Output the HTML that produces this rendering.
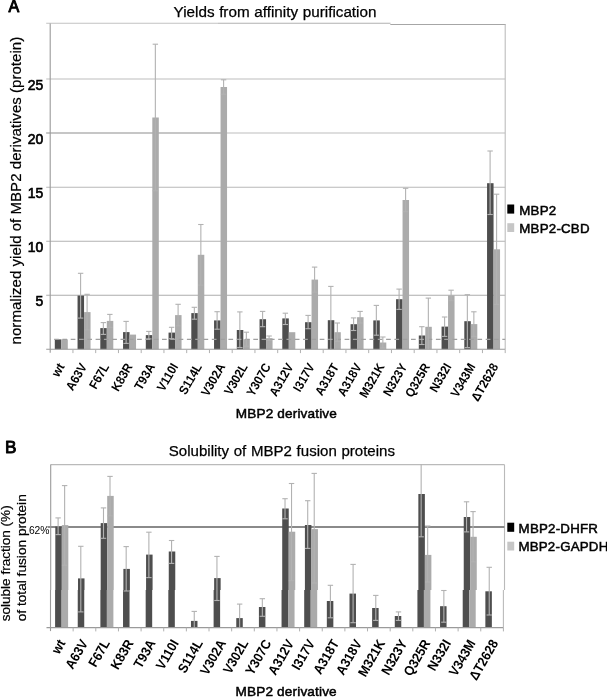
<!DOCTYPE html>
<html><head><meta charset="utf-8"><title>MBP2 derivatives</title>
<style>
html,body{margin:0;padding:0;background:#fff;}
body{width:607px;height:698px;overflow:hidden;}
svg{display:block;font-family:"Liberation Sans",sans-serif;fill:#000;filter:grayscale(1);}
</style></head><body>
<svg width="607" height="698" viewBox="0 0 607 698">
<rect width="607" height="698" fill="#fff"/>

<g id="chartA">
<g stroke="#bababa" stroke-width="1.05" fill="none">
<line x1="46.2" y1="295.2" x2="505.2" y2="295.2" stroke="#acacac"/>
<line x1="46.2" y1="241.2" x2="505.2" y2="241.2" stroke="#b2b2b2"/>
<line x1="46.2" y1="187.2" x2="505.2" y2="187.2" stroke="#b8b8b8"/>
<line x1="46.2" y1="133" x2="505.2" y2="133" stroke="#bebebe"/>
<line x1="46.2" y1="78.9" x2="505.2" y2="78.9" stroke="#bebebe"/>
<line x1="46.2" y1="23.3" x2="218" y2="23.3" stroke="#c2c2c2"/>
<line x1="218" y1="23.3" x2="390.5" y2="23.3" stroke="#b0b0b0"/>
<line x1="390.3" y1="24.4" x2="505.7" y2="24.4" stroke="#a6a6a6"/>
<line x1="505.2" y1="24.4" x2="505.2" y2="349.3"/>
<line x1="46.2" y1="133" x2="221" y2="133" stroke="#adadad" stroke-width="1.2"/>
</g>
<rect x="54.8" y="339.4" width="6.5" height="9.9" fill="#4e4e4e"/><rect x="61.3" y="339.4" width="6.5" height="9.9" fill="#ababab"/><rect x="77.55" y="295.6" width="6.5" height="53.7" fill="#4e4e4e"/><rect x="84.05" y="312.1" width="6.5" height="37.2" fill="#ababab"/><rect x="100.3" y="328.1" width="6.5" height="21.2" fill="#4e4e4e"/><rect x="106.8" y="320.9" width="6.5" height="28.4" fill="#ababab"/><rect x="123.05" y="332.1" width="6.5" height="17.2" fill="#4e4e4e"/><rect x="129.55" y="334.6" width="6.5" height="14.7" fill="#ababab"/><rect x="145.8" y="335.1" width="6.5" height="14.2" fill="#4e4e4e"/><rect x="152.3" y="117.5" width="6.5" height="231.8" fill="#ababab"/><rect x="168.55" y="332.6" width="6.5" height="16.7" fill="#4e4e4e"/><rect x="175.05" y="315.1" width="6.5" height="34.2" fill="#ababab"/><rect x="191.3" y="313.1" width="6.5" height="36.2" fill="#4e4e4e"/><rect x="197.8" y="254.8" width="6.5" height="94.5" fill="#ababab"/><rect x="214.05" y="320.4" width="6.5" height="28.9" fill="#4e4e4e"/><rect x="220.55" y="87" width="6.5" height="262.3" fill="#ababab"/><rect x="236.8" y="330" width="6.5" height="19.3" fill="#4e4e4e"/><rect x="243.3" y="339.2" width="6.5" height="10.1" fill="#ababab"/><rect x="259.55" y="319.2" width="6.5" height="30.1" fill="#4e4e4e"/><rect x="266.05" y="338.2" width="6.5" height="11.1" fill="#ababab"/><rect x="282.3" y="318.4" width="6.5" height="30.9" fill="#4e4e4e"/><rect x="288.8" y="332.2" width="6.5" height="17.1" fill="#ababab"/><rect x="305.05" y="322.2" width="6.5" height="27.1" fill="#4e4e4e"/><rect x="311.55" y="279.6" width="6.5" height="69.7" fill="#ababab"/><rect x="327.8" y="320.2" width="6.5" height="29.1" fill="#4e4e4e"/><rect x="334.3" y="332.2" width="6.5" height="17.1" fill="#ababab"/><rect x="350.55" y="324.2" width="6.5" height="25.1" fill="#4e4e4e"/><rect x="357.05" y="317.2" width="6.5" height="32.1" fill="#ababab"/><rect x="373.3" y="320.4" width="6.5" height="28.9" fill="#4e4e4e"/><rect x="379.8" y="342.5" width="6.5" height="6.8" fill="#ababab"/><rect x="396.05" y="299.2" width="6.5" height="50.1" fill="#4e4e4e"/><rect x="402.55" y="200" width="6.5" height="149.3" fill="#ababab"/><rect x="418.8" y="335.5" width="6.5" height="13.8" fill="#4e4e4e"/><rect x="425.3" y="326.8" width="6.5" height="22.5" fill="#ababab"/><rect x="441.55" y="326.6" width="6.5" height="22.7" fill="#4e4e4e"/><rect x="448.05" y="295.4" width="6.5" height="53.9" fill="#ababab"/><rect x="464.3" y="321.2" width="6.5" height="28.1" fill="#4e4e4e"/><rect x="470.8" y="324.1" width="6.5" height="25.2" fill="#ababab"/><rect x="487.05" y="183.2" width="6.5" height="166.1" fill="#4e4e4e"/><rect x="493.55" y="249.3" width="6.5" height="100" fill="#ababab"/>
<g stroke="#9a9a9a" stroke-width="1.1" fill="none">
<line x1="50.2" y1="23.4" x2="50.2" y2="352.8"/>
<line x1="46.2" y1="349.3" x2="505.2" y2="349.3"/>
</g>
<g stroke="#b0b0b0" stroke-width="1" fill="none">
<line x1="72.95" y1="349.3" x2="72.95" y2="353.1"/>
<line x1="95.7" y1="349.3" x2="95.7" y2="353.1"/>
<line x1="118.45" y1="349.3" x2="118.45" y2="353.1"/>
<line x1="141.2" y1="349.3" x2="141.2" y2="353.1"/>
<line x1="163.95" y1="349.3" x2="163.95" y2="353.1"/>
<line x1="186.7" y1="349.3" x2="186.7" y2="353.1"/>
<line x1="209.45" y1="349.3" x2="209.45" y2="353.1"/>
<line x1="232.2" y1="349.3" x2="232.2" y2="353.1"/>
<line x1="254.95" y1="349.3" x2="254.95" y2="353.1"/>
<line x1="277.7" y1="349.3" x2="277.7" y2="353.1"/>
<line x1="300.45" y1="349.3" x2="300.45" y2="353.1"/>
<line x1="323.2" y1="349.3" x2="323.2" y2="353.1"/>
<line x1="345.95" y1="349.3" x2="345.95" y2="353.1"/>
<line x1="368.7" y1="349.3" x2="368.7" y2="353.1"/>
<line x1="391.45" y1="349.3" x2="391.45" y2="353.1"/>
<line x1="414.2" y1="349.3" x2="414.2" y2="353.1"/>
<line x1="436.95" y1="349.3" x2="436.95" y2="353.1"/>
<line x1="459.7" y1="349.3" x2="459.7" y2="353.1"/>
<line x1="482.45" y1="349.3" x2="482.45" y2="353.1"/>
<line x1="505.2" y1="349.3" x2="505.2" y2="353.1"/>
</g>
<line x1="50.2" y1="339.4" x2="505.2" y2="339.4" stroke="#a0a0a0" stroke-width="1.2" stroke-dasharray="4.7 3.6" stroke-dashoffset="4.4"/>
<g stroke="#b2b2b2" stroke-width="1.1" fill="none"><line x1="80.6" y1="273.3" x2="80.6" y2="318.1"/><line x1="77.9" y1="273.3" x2="83.3" y2="273.3"/><line x1="77.9" y1="318.1" x2="83.3" y2="318.1"/><line x1="87.1" y1="294.3" x2="87.1" y2="329.9"/><line x1="84.4" y1="294.3" x2="89.8" y2="294.3"/><line x1="84.4" y1="329.9" x2="89.8" y2="329.9"/><line x1="103.35" y1="322.6" x2="103.35" y2="334.4"/><line x1="100.65" y1="322.6" x2="106.05" y2="322.6"/><line x1="100.65" y1="334.4" x2="106.05" y2="334.4"/><line x1="109.85" y1="314.4" x2="109.85" y2="327.4"/><line x1="107.15" y1="314.4" x2="112.55" y2="314.4"/><line x1="107.15" y1="327.4" x2="112.55" y2="327.4"/><line x1="126.1" y1="321.4" x2="126.1" y2="343.4"/><line x1="123.4" y1="321.4" x2="128.8" y2="321.4"/><line x1="123.4" y1="343.4" x2="128.8" y2="343.4"/><line x1="148.85" y1="331.4" x2="148.85" y2="338.9"/><line x1="146.15" y1="331.4" x2="151.55" y2="331.4"/><line x1="146.15" y1="338.9" x2="151.55" y2="338.9"/><line x1="155.35" y1="44.2" x2="155.35" y2="190.8"/><line x1="152.65" y1="44.2" x2="158.05" y2="44.2"/><line x1="152.65" y1="190.8" x2="158.05" y2="190.8"/><line x1="171.6" y1="327.3" x2="171.6" y2="338.7"/><line x1="168.9" y1="327.3" x2="174.3" y2="327.3"/><line x1="168.9" y1="338.7" x2="174.3" y2="338.7"/><line x1="178.1" y1="304.3" x2="178.1" y2="325.9"/><line x1="175.4" y1="304.3" x2="180.8" y2="304.3"/><line x1="175.4" y1="325.9" x2="180.8" y2="325.9"/><line x1="194.35" y1="307.3" x2="194.35" y2="319.2"/><line x1="191.65" y1="307.3" x2="197.05" y2="307.3"/><line x1="191.65" y1="319.2" x2="197.05" y2="319.2"/><line x1="200.85" y1="224.5" x2="200.85" y2="285.1"/><line x1="198.15" y1="224.5" x2="203.55" y2="224.5"/><line x1="198.15" y1="285.1" x2="203.55" y2="285.1"/><line x1="217.1" y1="311.7" x2="217.1" y2="329.2"/><line x1="214.4" y1="311.7" x2="219.8" y2="311.7"/><line x1="214.4" y1="329.2" x2="219.8" y2="329.2"/><line x1="223.6" y1="79.8" x2="223.6" y2="94.2"/><line x1="220.9" y1="79.8" x2="226.3" y2="79.8"/><line x1="220.9" y1="94.2" x2="226.3" y2="94.2"/><line x1="239.85" y1="311.9" x2="239.85" y2="347.5"/><line x1="237.15" y1="311.9" x2="242.55" y2="311.9"/><line x1="237.15" y1="347.5" x2="242.55" y2="347.5"/><line x1="246.35" y1="332.2" x2="246.35" y2="346.2"/><line x1="243.65" y1="332.2" x2="249.05" y2="332.2"/><line x1="243.65" y1="346.2" x2="249.05" y2="346.2"/><line x1="262.6" y1="311.4" x2="262.6" y2="326.7"/><line x1="259.9" y1="311.4" x2="265.3" y2="311.4"/><line x1="259.9" y1="326.7" x2="265.3" y2="326.7"/><line x1="269.1" y1="336" x2="269.1" y2="340.4"/><line x1="266.4" y1="336" x2="271.8" y2="336"/><line x1="266.4" y1="340.4" x2="271.8" y2="340.4"/><line x1="285.35" y1="313.2" x2="285.35" y2="324.5"/><line x1="282.65" y1="313.2" x2="288.05" y2="313.2"/><line x1="282.65" y1="324.5" x2="288.05" y2="324.5"/><line x1="308.1" y1="315.4" x2="308.1" y2="328.7"/><line x1="305.4" y1="315.4" x2="310.8" y2="315.4"/><line x1="305.4" y1="328.7" x2="310.8" y2="328.7"/><line x1="314.6" y1="267.1" x2="314.6" y2="292.1"/><line x1="311.9" y1="267.1" x2="317.3" y2="267.1"/><line x1="311.9" y1="292.1" x2="317.3" y2="292.1"/><line x1="330.85" y1="286.4" x2="330.85" y2="349.3"/><line x1="328.15" y1="286.4" x2="333.55" y2="286.4"/><line x1="337.35" y1="323" x2="337.35" y2="341.4"/><line x1="334.65" y1="323" x2="340.05" y2="323"/><line x1="334.65" y1="341.4" x2="340.05" y2="341.4"/><line x1="353.6" y1="317.9" x2="353.6" y2="330.5"/><line x1="350.9" y1="317.9" x2="356.3" y2="317.9"/><line x1="350.9" y1="330.5" x2="356.3" y2="330.5"/><line x1="360.1" y1="311.4" x2="360.1" y2="323"/><line x1="357.4" y1="311.4" x2="362.8" y2="311.4"/><line x1="357.4" y1="323" x2="362.8" y2="323"/><line x1="376.35" y1="305.4" x2="376.35" y2="335.2"/><line x1="373.65" y1="305.4" x2="379.05" y2="305.4"/><line x1="373.65" y1="335.2" x2="379.05" y2="335.2"/><line x1="382.85" y1="337" x2="382.85" y2="348"/><line x1="380.15" y1="337" x2="385.55" y2="337"/><line x1="380.15" y1="348" x2="385.55" y2="348"/><line x1="399.1" y1="289.1" x2="399.1" y2="309.4"/><line x1="396.4" y1="289.1" x2="401.8" y2="289.1"/><line x1="396.4" y1="309.4" x2="401.8" y2="309.4"/><line x1="405.6" y1="188.3" x2="405.6" y2="211.7"/><line x1="402.9" y1="188.3" x2="408.3" y2="188.3"/><line x1="402.9" y1="211.7" x2="408.3" y2="211.7"/><line x1="421.85" y1="326.7" x2="421.85" y2="344.5"/><line x1="419.15" y1="326.7" x2="424.55" y2="326.7"/><line x1="419.15" y1="344.5" x2="424.55" y2="344.5"/><line x1="428.35" y1="298.1" x2="428.35" y2="349.3"/><line x1="425.65" y1="298.1" x2="431.05" y2="298.1"/><line x1="444.6" y1="317" x2="444.6" y2="336.4"/><line x1="441.9" y1="317" x2="447.3" y2="317"/><line x1="441.9" y1="336.4" x2="447.3" y2="336.4"/><line x1="451.1" y1="290.2" x2="451.1" y2="300.7"/><line x1="448.4" y1="290.2" x2="453.8" y2="290.2"/><line x1="448.4" y1="300.7" x2="453.8" y2="300.7"/><line x1="467.35" y1="294.7" x2="467.35" y2="347.6"/><line x1="464.65" y1="294.7" x2="470.05" y2="294.7"/><line x1="464.65" y1="347.6" x2="470.05" y2="347.6"/><line x1="473.85" y1="311.8" x2="473.85" y2="336.4"/><line x1="471.15" y1="311.8" x2="476.55" y2="311.8"/><line x1="471.15" y1="336.4" x2="476.55" y2="336.4"/><line x1="490.1" y1="151" x2="490.1" y2="214.5"/><line x1="487.4" y1="151" x2="492.8" y2="151"/><line x1="487.4" y1="214.5" x2="492.8" y2="214.5"/><line x1="496.6" y1="194.2" x2="496.6" y2="304.4"/><line x1="493.9" y1="194.2" x2="499.3" y2="194.2"/><line x1="493.9" y1="304.4" x2="499.3" y2="304.4"/></g>
<text x="43.3" y="306" text-anchor="end" font-size="13.9" stroke="#000" stroke-width="0.65">5</text>
<text x="43.3" y="252" text-anchor="end" font-size="13.9" stroke="#000" stroke-width="0.65">10</text>
<text x="43.3" y="198" text-anchor="end" font-size="13.9" stroke="#000" stroke-width="0.65">15</text>
<text x="43.3" y="143.8" text-anchor="end" font-size="13.9" stroke="#000" stroke-width="0.65">20</text>
<text x="43.3" y="89.7" text-anchor="end" font-size="13.9" stroke="#000" stroke-width="0.65">25</text>
<text x="275" y="16.8" text-anchor="middle" font-size="15.25" word-spacing="0.4" stroke="#000" stroke-width="0.25">Yields from affinity purification</text>
<text x="8.4" y="12.1" font-size="16.1" stroke="#000" stroke-width="0.9" stroke-linejoin="round">A</text>
<text transform="translate(21.3,344.4) rotate(-90)" font-size="15.08" stroke="#000" stroke-width="0.2">normalized yield of MBP2 derivatives (protein)</text>
<text x="286.4" y="418.1" text-anchor="middle" font-size="13.6" stroke="#000" stroke-width="0.5" letter-spacing="0.15">MBP2 derivative</text>
<text transform="translate(64.88,366.5) rotate(-60) scale(0.92,1)" text-anchor="end" font-size="12.6" font-weight="bold">wt</text><text transform="translate(87.33,366.5) rotate(-60) scale(0.92,1)" text-anchor="end" font-size="12.6" font-weight="bold">A63V</text><text transform="translate(109.51,366.5) rotate(-60) scale(0.92,1)" text-anchor="end" font-size="12.6" font-weight="bold">F67L</text><text transform="translate(133.01,366.5) rotate(-60) scale(0.92,1)" text-anchor="end" font-size="12.6" font-weight="bold">K83R</text><text transform="translate(155.39,366.5) rotate(-60) scale(0.92,1)" text-anchor="end" font-size="12.6" font-weight="bold">T93A</text><text transform="translate(178.51,366.5) rotate(-60) scale(0.92,1)" text-anchor="end" font-size="12.6" font-weight="bold">V110I</text><text transform="translate(202.4,366.5) rotate(-60) scale(0.92,1)" text-anchor="end" font-size="12.6" font-weight="bold">S114L</text><text transform="translate(225.62,366.5) rotate(-60) scale(0.92,1)" text-anchor="end" font-size="12.6" font-weight="bold">V302A</text><text transform="translate(248.09,366.5) rotate(-60) scale(0.92,1)" text-anchor="end" font-size="12.6" font-weight="bold">V302L</text><text transform="translate(271.12,366.5) rotate(-60) scale(0.92,1)" text-anchor="end" font-size="12.6" font-weight="bold">Y307C</text><text transform="translate(293.88,366.5) rotate(-60) scale(0.92,1)" text-anchor="end" font-size="12.6" font-weight="bold">A312V</text><text transform="translate(315.2,366.5) rotate(-60) scale(0.92,1)" text-anchor="end" font-size="12.6" font-weight="bold">I317V</text><text transform="translate(339.28,366.5) rotate(-60) scale(0.92,1)" text-anchor="end" font-size="12.6" font-weight="bold">A318T</text><text transform="translate(362.12,366.5) rotate(-60) scale(0.92,1)" text-anchor="end" font-size="12.6" font-weight="bold">A318V</text><text transform="translate(384.88,366.5) rotate(-60) scale(0.92,1)" text-anchor="end" font-size="12.6" font-weight="bold">M321K</text><text transform="translate(407.62,366.5) rotate(-60) scale(0.92,1)" text-anchor="end" font-size="12.6" font-weight="bold">N323Y</text><text transform="translate(430.38,366.5) rotate(-60) scale(0.92,1)" text-anchor="end" font-size="12.6" font-weight="bold">Q325R</text><text transform="translate(451.89,366.5) rotate(-60) scale(0.92,1)" text-anchor="end" font-size="12.6" font-weight="bold">N332I</text><text transform="translate(475.88,366.5) rotate(-60) scale(0.92,1)" text-anchor="end" font-size="12.6" font-weight="bold">V343M</text><text transform="translate(498.62,366.5) rotate(-60) scale(0.92,1)" text-anchor="end" font-size="12.6" font-weight="bold">ΔT2628</text>
<rect x="507.3" y="204.5" width="6.9" height="9.1" fill="#000"/>
<rect x="507.3" y="223.2" width="6.9" height="8.8" fill="#c6c6c6"/>
<text x="519.3" y="214.5" font-size="13.3" stroke="#000" stroke-width="0.5" letter-spacing="0.22">MBP2</text>
<text x="519.3" y="233.2" font-size="13.3" stroke="#000" stroke-width="0.5" letter-spacing="0.22">MBP2-CBD</text>
</g>
<defs><clipPath id="cu"><rect x="0" y="430" width="607" height="160"/></clipPath><clipPath id="cl"><rect x="0" y="590" width="607" height="108"/></clipPath></defs>
<g id="chartB">
<g clip-path="url(#cl)"><g stroke="#bababa" stroke-width="1.1" fill="none"><line x1="50.5" y1="464.6" x2="503.4" y2="464.6"/><line x1="503.4" y1="464.6" x2="503.4" y2="627.6"/></g><line x1="47.5" y1="526.9" x2="503.4" y2="526.9" stroke="#8a8a8a" stroke-width="2"/><rect x="55.1" y="526.5" width="6.5" height="101.1" fill="#4e4e4e"/><rect x="61.6" y="525.1" width="6.5" height="102.5" fill="#ababab"/><rect x="77.74" y="578.4" width="6.5" height="49.2" fill="#4e4e4e"/><rect x="100.39" y="523.1" width="6.5" height="104.5" fill="#4e4e4e"/><rect x="106.89" y="495.9" width="6.5" height="131.7" fill="#ababab"/><rect x="123.03" y="568.9" width="6.5" height="58.7" fill="#4e4e4e"/><rect x="145.68" y="554.6" width="6.5" height="73" fill="#4e4e4e"/><rect x="168.32" y="551.5" width="6.5" height="76.1" fill="#4e4e4e"/><rect x="190.97" y="620.9" width="6.5" height="6.7" fill="#4e4e4e"/><rect x="213.61" y="578.1" width="6.5" height="49.5" fill="#4e4e4e"/><rect x="236.26" y="618.1" width="6.5" height="9.5" fill="#4e4e4e"/><rect x="258.91" y="607" width="6.5" height="20.6" fill="#4e4e4e"/><rect x="281.55" y="508.5" width="6.5" height="119.1" fill="#4e4e4e"/><rect x="288.05" y="531.7" width="6.5" height="95.9" fill="#ababab"/><rect x="304.2" y="525" width="6.5" height="102.6" fill="#4e4e4e"/><rect x="310.7" y="529.1" width="6.5" height="98.5" fill="#ababab"/><rect x="326.84" y="601" width="6.5" height="26.6" fill="#4e4e4e"/><rect x="349.49" y="593.6" width="6.5" height="34" fill="#4e4e4e"/><rect x="372.13" y="608" width="6.5" height="19.6" fill="#4e4e4e"/><rect x="394.78" y="616" width="6.5" height="11.6" fill="#4e4e4e"/><rect x="417.42" y="494" width="6.5" height="133.6" fill="#4e4e4e"/><rect x="423.92" y="554.9" width="6.5" height="72.7" fill="#ababab"/><rect x="440.06" y="606.2" width="6.5" height="21.4" fill="#4e4e4e"/><rect x="462.71" y="517" width="6.5" height="110.6" fill="#4e4e4e"/><rect x="469.21" y="536.8" width="6.5" height="90.8" fill="#ababab"/><rect x="485.36" y="591.3" width="6.5" height="36.3" fill="#4e4e4e"/><g stroke="#9a9a9a" stroke-width="1.1" fill="none"><line x1="50.5" y1="464.6" x2="50.5" y2="631.1"/><line x1="46.5" y1="627.6" x2="503.4" y2="627.6"/></g></g>
<g clip-path="url(#cu)"><g transform="matrix(1.002,0,0,1,0.1,0)"><g stroke="#bababa" stroke-width="1.1" fill="none"><line x1="50.5" y1="464.6" x2="503.4" y2="464.6"/><line x1="503.4" y1="464.6" x2="503.4" y2="627.6"/></g><line x1="47.5" y1="526.9" x2="503.4" y2="526.9" stroke="#8a8a8a" stroke-width="2"/><rect x="55.1" y="526.5" width="6.5" height="101.1" fill="#4e4e4e"/><rect x="61.6" y="525.1" width="6.5" height="102.5" fill="#ababab"/><rect x="77.74" y="578.4" width="6.5" height="49.2" fill="#4e4e4e"/><rect x="100.39" y="523.1" width="6.5" height="104.5" fill="#4e4e4e"/><rect x="106.89" y="495.9" width="6.5" height="131.7" fill="#ababab"/><rect x="123.03" y="568.9" width="6.5" height="58.7" fill="#4e4e4e"/><rect x="145.68" y="554.6" width="6.5" height="73" fill="#4e4e4e"/><rect x="168.32" y="551.5" width="6.5" height="76.1" fill="#4e4e4e"/><rect x="190.97" y="620.9" width="6.5" height="6.7" fill="#4e4e4e"/><rect x="213.61" y="578.1" width="6.5" height="49.5" fill="#4e4e4e"/><rect x="236.26" y="618.1" width="6.5" height="9.5" fill="#4e4e4e"/><rect x="258.91" y="607" width="6.5" height="20.6" fill="#4e4e4e"/><rect x="281.55" y="508.5" width="6.5" height="119.1" fill="#4e4e4e"/><rect x="288.05" y="531.7" width="6.5" height="95.9" fill="#ababab"/><rect x="304.2" y="525" width="6.5" height="102.6" fill="#4e4e4e"/><rect x="310.7" y="529.1" width="6.5" height="98.5" fill="#ababab"/><rect x="326.84" y="601" width="6.5" height="26.6" fill="#4e4e4e"/><rect x="349.49" y="593.6" width="6.5" height="34" fill="#4e4e4e"/><rect x="372.13" y="608" width="6.5" height="19.6" fill="#4e4e4e"/><rect x="394.78" y="616" width="6.5" height="11.6" fill="#4e4e4e"/><rect x="417.42" y="494" width="6.5" height="133.6" fill="#4e4e4e"/><rect x="423.92" y="554.9" width="6.5" height="72.7" fill="#ababab"/><rect x="440.06" y="606.2" width="6.5" height="21.4" fill="#4e4e4e"/><rect x="462.71" y="517" width="6.5" height="110.6" fill="#4e4e4e"/><rect x="469.21" y="536.8" width="6.5" height="90.8" fill="#ababab"/><rect x="485.36" y="591.3" width="6.5" height="36.3" fill="#4e4e4e"/><g stroke="#9a9a9a" stroke-width="1.1" fill="none"><line x1="50.5" y1="464.6" x2="50.5" y2="631.1"/><line x1="46.5" y1="627.6" x2="503.4" y2="627.6"/></g></g></g>
<g transform="matrix(1.002,0,0,1,0.1,0)"><g stroke="#b2b2b2" stroke-width="1.1" fill="none"><line x1="57.9" y1="517.9" x2="57.9" y2="534.6"/><line x1="55.2" y1="517.9" x2="60.6" y2="517.9"/><line x1="55.2" y1="534.6" x2="60.6" y2="534.6"/><line x1="64.4" y1="485.6" x2="64.4" y2="565.2"/><line x1="61.7" y1="485.6" x2="67.1" y2="485.6"/><line x1="61.7" y1="565.2" x2="67.1" y2="565.2"/><line x1="80.54" y1="546.3" x2="80.54" y2="611.9"/><line x1="77.84" y1="546.3" x2="83.24" y2="546.3"/><line x1="77.84" y1="611.9" x2="83.24" y2="611.9"/><line x1="103.19" y1="507.9" x2="103.19" y2="538.3"/><line x1="100.49" y1="507.9" x2="105.89" y2="507.9"/><line x1="100.49" y1="538.3" x2="105.89" y2="538.3"/><line x1="109.69" y1="476.4" x2="109.69" y2="515.9"/><line x1="106.99" y1="476.4" x2="112.39" y2="476.4"/><line x1="106.99" y1="515.9" x2="112.39" y2="515.9"/><line x1="125.83" y1="546.6" x2="125.83" y2="591"/><line x1="123.13" y1="546.6" x2="128.53" y2="546.6"/><line x1="123.13" y1="591" x2="128.53" y2="591"/><line x1="148.48" y1="532.2" x2="148.48" y2="577.6"/><line x1="145.78" y1="532.2" x2="151.18" y2="532.2"/><line x1="145.78" y1="577.6" x2="151.18" y2="577.6"/><line x1="171.12" y1="540.5" x2="171.12" y2="563.4"/><line x1="168.43" y1="540.5" x2="173.82" y2="540.5"/><line x1="168.43" y1="563.4" x2="173.82" y2="563.4"/><line x1="193.77" y1="611.4" x2="193.77" y2="627.6"/><line x1="191.07" y1="611.4" x2="196.47" y2="611.4"/><line x1="216.41" y1="556.4" x2="216.41" y2="600.5"/><line x1="213.72" y1="556.4" x2="219.11" y2="556.4"/><line x1="213.72" y1="600.5" x2="219.11" y2="600.5"/><line x1="239.06" y1="604.1" x2="239.06" y2="627.6"/><line x1="236.36" y1="604.1" x2="241.76" y2="604.1"/><line x1="261.71" y1="598.7" x2="261.71" y2="616.3"/><line x1="259.01" y1="598.7" x2="264.41" y2="598.7"/><line x1="259.01" y1="616.3" x2="264.41" y2="616.3"/><line x1="284.35" y1="498.7" x2="284.35" y2="518.8"/><line x1="281.65" y1="498.7" x2="287.05" y2="498.7"/><line x1="281.65" y1="518.8" x2="287.05" y2="518.8"/><line x1="290.85" y1="483.5" x2="290.85" y2="580.7"/><line x1="288.15" y1="483.5" x2="293.55" y2="483.5"/><line x1="288.15" y1="580.7" x2="293.55" y2="580.7"/><line x1="307" y1="500.7" x2="307" y2="548.4"/><line x1="304.3" y1="500.7" x2="309.7" y2="500.7"/><line x1="304.3" y1="548.4" x2="309.7" y2="548.4"/><line x1="313.5" y1="473.4" x2="313.5" y2="583"/><line x1="310.8" y1="473.4" x2="316.2" y2="473.4"/><line x1="310.8" y1="583" x2="316.2" y2="583"/><line x1="329.64" y1="585.3" x2="329.64" y2="617.8"/><line x1="326.94" y1="585.3" x2="332.34" y2="585.3"/><line x1="326.94" y1="617.8" x2="332.34" y2="617.8"/><line x1="352.29" y1="564.4" x2="352.29" y2="622.7"/><line x1="349.59" y1="564.4" x2="354.99" y2="564.4"/><line x1="349.59" y1="622.7" x2="354.99" y2="622.7"/><line x1="374.93" y1="595.4" x2="374.93" y2="620.4"/><line x1="372.23" y1="595.4" x2="377.63" y2="595.4"/><line x1="372.23" y1="620.4" x2="377.63" y2="620.4"/><line x1="397.58" y1="611.9" x2="397.58" y2="620.4"/><line x1="394.88" y1="611.9" x2="400.28" y2="611.9"/><line x1="394.88" y1="620.4" x2="400.28" y2="620.4"/><line x1="420.22" y1="464.6" x2="420.22" y2="536.8"/><line x1="417.52" y1="536.8" x2="422.92" y2="536.8"/><line x1="426.72" y1="526" x2="426.72" y2="582"/><line x1="424.02" y1="526" x2="429.42" y2="526"/><line x1="424.02" y1="582" x2="429.42" y2="582"/><line x1="442.87" y1="590.5" x2="442.87" y2="622.2"/><line x1="440.17" y1="590.5" x2="445.56" y2="590.5"/><line x1="440.17" y1="622.2" x2="445.56" y2="622.2"/><line x1="465.51" y1="501.8" x2="465.51" y2="531.9"/><line x1="462.81" y1="501.8" x2="468.21" y2="501.8"/><line x1="462.81" y1="531.9" x2="468.21" y2="531.9"/><line x1="472.01" y1="511.6" x2="472.01" y2="561.9"/><line x1="469.31" y1="511.6" x2="474.71" y2="511.6"/><line x1="469.31" y1="561.9" x2="474.71" y2="561.9"/><line x1="488.16" y1="567.3" x2="488.16" y2="615"/><line x1="485.46" y1="567.3" x2="490.86" y2="567.3"/><line x1="485.46" y1="615" x2="490.86" y2="615"/></g></g>
<g stroke="#b0b0b0" stroke-width="1" fill="none">
<line x1="73.14" y1="627.6" x2="73.14" y2="631.4"/>
<line x1="95.79" y1="627.6" x2="95.79" y2="631.4"/>
<line x1="118.44" y1="627.6" x2="118.44" y2="631.4"/>
<line x1="141.08" y1="627.6" x2="141.08" y2="631.4"/>
<line x1="163.72" y1="627.6" x2="163.72" y2="631.4"/>
<line x1="186.37" y1="627.6" x2="186.37" y2="631.4"/>
<line x1="209.01" y1="627.6" x2="209.01" y2="631.4"/>
<line x1="231.66" y1="627.6" x2="231.66" y2="631.4"/>
<line x1="254.31" y1="627.6" x2="254.31" y2="631.4"/>
<line x1="276.95" y1="627.6" x2="276.95" y2="631.4"/>
<line x1="299.6" y1="627.6" x2="299.6" y2="631.4"/>
<line x1="322.24" y1="627.6" x2="322.24" y2="631.4"/>
<line x1="344.88" y1="627.6" x2="344.88" y2="631.4"/>
<line x1="367.53" y1="627.6" x2="367.53" y2="631.4"/>
<line x1="390.18" y1="627.6" x2="390.18" y2="631.4"/>
<line x1="412.82" y1="627.6" x2="412.82" y2="631.4"/>
<line x1="435.46" y1="627.6" x2="435.46" y2="631.4"/>
<line x1="458.11" y1="627.6" x2="458.11" y2="631.4"/>
<line x1="480.75" y1="627.6" x2="480.75" y2="631.4"/>
<line x1="503.4" y1="627.6" x2="503.4" y2="631.4"/>
</g>
<text x="281.9" y="455.5" text-anchor="middle" font-size="15.05" word-spacing="0.5" stroke="#000" stroke-width="0.25">Solubility of MBP2 fusion proteins</text>
<text x="5.0" y="453.1" font-size="17.2" stroke="#000" stroke-width="0.9" stroke-linejoin="round">B</text>
<text transform="translate(10.0,621.3) rotate(-90)" font-size="13.55" stroke="#000" stroke-width="0.2">soluble fraction (%)</text>
<text transform="translate(25.9,621.3) rotate(-90)" font-size="13.7" stroke="#000" stroke-width="0.2">of total fusion protein</text>
<text x="49.5" y="533.9" text-anchor="end" font-size="10.3">62%</text>
<text x="286.2" y="696.2" text-anchor="middle" font-size="13.6" stroke="#000" stroke-width="0.5" letter-spacing="0.15">MBP2 derivative</text>
<text transform="translate(65.82,643) rotate(-60) scale(0.92,1)" text-anchor="end" font-size="13.5" font-weight="bold">wt</text><text transform="translate(88.38,643) rotate(-60) scale(0.92,1)" text-anchor="end" font-size="13.5" font-weight="bold">A63V</text><text transform="translate(110.35,643) rotate(-60) scale(0.92,1)" text-anchor="end" font-size="13.5" font-weight="bold">F67L</text><text transform="translate(133.9,643) rotate(-60) scale(0.92,1)" text-anchor="end" font-size="13.5" font-weight="bold">K83R</text><text transform="translate(156.09,643) rotate(-60) scale(0.92,1)" text-anchor="end" font-size="13.5" font-weight="bold">T93A</text><text transform="translate(179.19,643) rotate(-60) scale(0.92,1)" text-anchor="end" font-size="13.5" font-weight="bold">V110I</text><text transform="translate(203.18,643) rotate(-60) scale(0.92,1)" text-anchor="end" font-size="13.5" font-weight="bold">S114L</text><text transform="translate(226.5,643) rotate(-60) scale(0.92,1)" text-anchor="end" font-size="13.5" font-weight="bold">V302A</text><text transform="translate(248.7,643) rotate(-60) scale(0.92,1)" text-anchor="end" font-size="13.5" font-weight="bold">V302L</text><text transform="translate(271.79,643) rotate(-60) scale(0.92,1)" text-anchor="end" font-size="13.5" font-weight="bold">Y307C</text><text transform="translate(294.44,643) rotate(-60) scale(0.92,1)" text-anchor="end" font-size="13.5" font-weight="bold">A312V</text><text transform="translate(315.28,643) rotate(-60) scale(0.92,1)" text-anchor="end" font-size="13.5" font-weight="bold">I317V</text><text transform="translate(339.5,643) rotate(-60) scale(0.92,1)" text-anchor="end" font-size="13.5" font-weight="bold">A318T</text><text transform="translate(362.37,643) rotate(-60) scale(0.92,1)" text-anchor="end" font-size="13.5" font-weight="bold">A318V</text><text transform="translate(385.45,643) rotate(-60) scale(0.92,1)" text-anchor="end" font-size="13.5" font-weight="bold">M321K</text><text transform="translate(407.66,643) rotate(-60) scale(0.92,1)" text-anchor="end" font-size="13.5" font-weight="bold">N323Y</text><text transform="translate(430.74,643) rotate(-60) scale(0.92,1)" text-anchor="end" font-size="13.5" font-weight="bold">Q325R</text><text transform="translate(451.38,643) rotate(-60) scale(0.92,1)" text-anchor="end" font-size="13.5" font-weight="bold">N332I</text><text transform="translate(476.03,643) rotate(-60) scale(0.92,1)" text-anchor="end" font-size="13.5" font-weight="bold">V343M</text><text transform="translate(498.68,643) rotate(-60) scale(0.92,1)" text-anchor="end" font-size="13.5" font-weight="bold">ΔT2628</text>
<rect x="507.3" y="522.7" width="6.9" height="9.1" fill="#000"/>
<rect x="507.3" y="541.7" width="6.9" height="8.8" fill="#c6c6c6"/>
<text x="518.6" y="532.7" font-size="13.3" stroke="#000" stroke-width="0.5" letter-spacing="0.22">MBP2-DHFR</text>
<text x="518.4" y="551.3" font-size="13.3" stroke="#000" stroke-width="0.5" letter-spacing="0.22">MBP2-GAPDH</text>
</g>
</svg></body></html>
